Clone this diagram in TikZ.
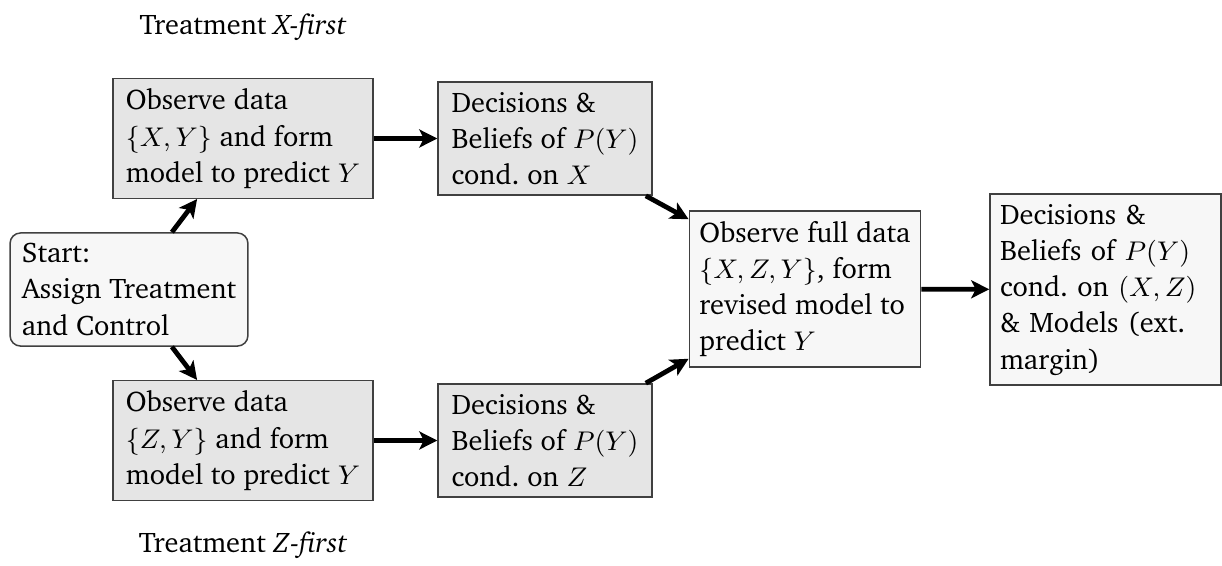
\documentclass[tikz,border=0pt]{standalone}
\usepackage[T1]{fontenc}
\renewcommand{\rmdefault}{bch}
\usetikzlibrary{arrows.meta}
\tikzset{
  every node/.style={font=\fontsize{9.45}{12.1}\selectfont},
  box/.style={draw=black!75, line width=0.5pt, inner sep=3.33pt, align=left, anchor=center},
  darkbox/.style={box, fill=black!10},
  lightbox/.style={box, fill=black!3},
  arr/.style={line width=1.6pt, -{Stealth[length=6pt,width=6pt,inset=1.5pt]}},
  lbl/.style={inner sep=0pt}
}
\begin{document}
\begin{tikzpicture}[x=0.33333pt, y=-0.33333pt]
\useasboundingbox (0,0) rectangle (1222,565);
\node[darkbox, minimum width=86.7pt, minimum height=39.7pt] (A) at (243,138.5)
  {Observe data\\$\{X,Y\}$ and form\\model to predict $Y$};
\node[darkbox, minimum width=86.7pt, minimum height=39.7pt] (B) at (243,440.5)
  {Observe data\\$\{Z,Y\}$ and form\\model to predict $Y$};
\node[lightbox, rounded corners=3.5pt, minimum width=79.3pt, minimum height=37.7pt] (S) at (129,289.5)
  {Start:\\Assign Treatment\\and Control};
\node[darkbox, minimum width=71.3pt, minimum height=37.7pt] (C) at (545,138.5)
  {Decisions \&\\Beliefs of $P(Y)$\\cond.\ on $X$};
\node[darkbox, minimum width=71.3pt, minimum height=37.7pt] (D) at (545,440.5)
  {Decisions \&\\Beliefs of $P(Y)$\\cond.\ on $Z$};
\node[lightbox, minimum width=76pt, minimum height=52pt] (E) at (805,289)
  {Observe full data\\$\{X,Z,Y\}$, form\\revised model to\\predict $Y$};
\node[lightbox, minimum width=77pt, minimum height=63.7pt, text width=70.3pt] (F) at (1105.5,289.5)
  {Decisions \&\\Beliefs of $P(Y)$\\cond.\ on $(X,Z)$\\\& Models (ext.\\margin)};
\node[lbl] (TX) at (243,27) {Treatment \emph{X-first}};
\node[lbl] (TZ) at (243,545) {Treatment \emph{Z-first}};
\draw[arr] ([xshift=14.3pt]S.north) -- ([xshift=-15.3pt]A.south);
\draw[arr] ([xshift=14.3pt]S.south) -- ([xshift=-15.3pt]B.north);
\draw[arr] (A) -- (C);
\draw[arr] (B) -- (D);
\draw[arr] ([xshift=-2.3pt]C.south east) -- ([yshift=-3pt]E.north west);
\draw[arr] ([xshift=-2.3pt]D.north east) -- ([yshift=3pt]E.south west);
\draw[arr] (E) -- (F);
\end{tikzpicture}
\end{document}
